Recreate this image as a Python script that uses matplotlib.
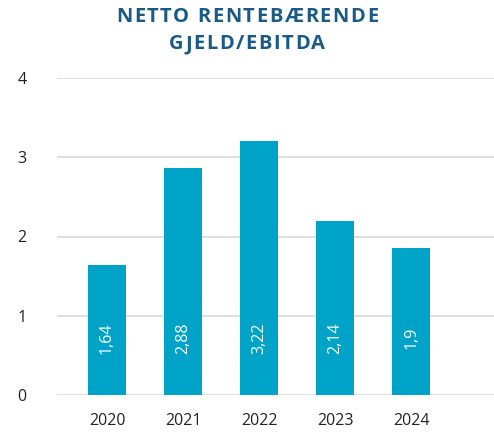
import matplotlib
matplotlib.use("Agg")
import matplotlib.pyplot as plt

years = ["2020", "2021", "2022", "2023", "2024"]
values = [1.64, 2.87, 3.21, 2.2, 1.86]
labels = ["1,64", "2,88", "3,22", "2,14", "1,9"]
yticks = [0, 1, 2, 3, 4]
title_lines = ["NETTO RENTEBÆRENDE", "GJELD/EBITDA"]

bar_color = "#00a3c8"
title_color = "#1b5a87"
font = "Open Sans"

W, H = 494, 433
fig = plt.figure(figsize=(W/100, H/100), dpi=100)
ax = fig.add_axes([57/W, 1-395/H, (W-57)/W, (395-78)/H])

x = list(range(len(years)))
ax.bar(x, values, width=0.5, color=bar_color, zorder=3)
for xi, lab in zip(x, labels):
    ax.text(xi, 0.72, lab, rotation=90, ha="center", va="center",
            color="white", fontsize=11.5, family=font, zorder=4)

ax.set_xlim(-0.658, 5.09)
ax.set_ylim(0, 4)
ax.set_yticks(yticks)
ax.set_yticklabels([str(t) for t in yticks], family=font, fontsize=11.5, color="#222222")
ax.set_xticks(x)
ax.set_xticklabels(years, family=font, fontsize=11.5, color="#222222")
ax.tick_params(axis="y", length=0, pad=22)
ax.tick_params(axis="x", length=0, pad=13)
ax.grid(axis="y", color="#d9d9d9", linewidth=1.2, zorder=0)
for s in ax.spines.values():
    s.set_visible(False)

# letter-spaced title
renderer = fig.canvas.get_renderer()
spacing = 1.6  # px between letters
for line, yc in zip(title_lines, [17, 44]):
    texts = []
    widths = []
    for ch in line:
        t = fig.text(0, 1-yc/H, ch, ha="left", va="center", fontsize=14.5,
                     fontweight="bold", color=title_color, family=font)
        texts.append(t)
        bb = t.get_window_extent(renderer)
        widths.append(bb.width)
    total = sum(widths) + spacing*(len(widths)-1)
    xpos = 247 - total/2
    for t, w in zip(texts, widths):
        t.set_x(xpos/W)
        xpos += w + spacing

fig.savefig("out.png", dpi=100)
